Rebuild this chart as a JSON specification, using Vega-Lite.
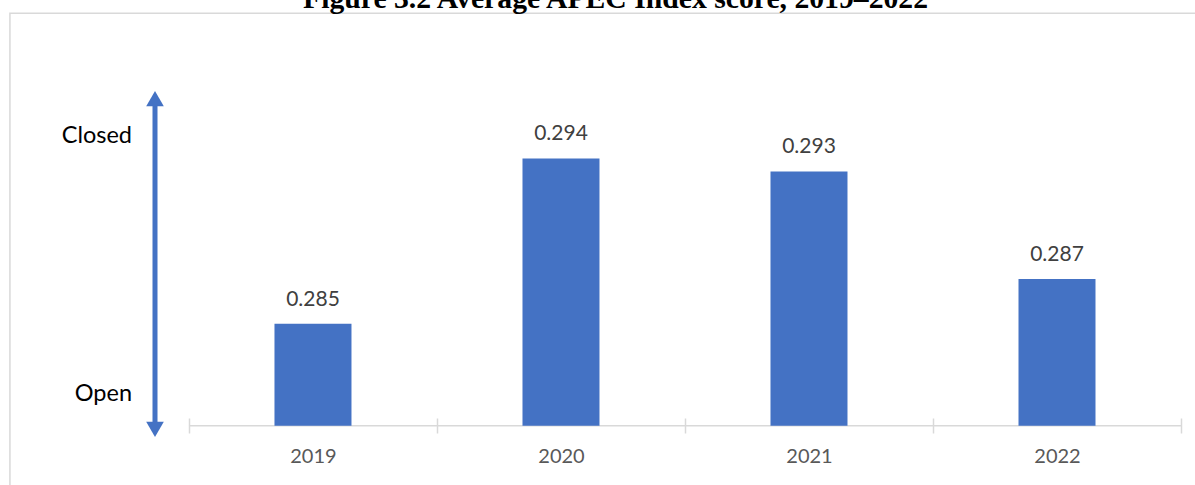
{
  "$schema": "https://vega.github.io/schema/vega-lite/v6.json",
  "width": 1026,
  "height": 346,
  "autosize": "none",
  "padding": {"left": 155, "top": 91, "right": 14, "bottom": 48},
  "background": "white",
  "config": {"view": {"stroke": null}, "font": "Lato", "scale": {"continuousPadding": 0}},
  "title": {
    "text": "Figure 3.2 Average APEC Index score, 2019–2022",
    "font": "Liberation Serif",
    "fontSize": 29.7,
    "fontWeight": "bold",
    "color": "black",
    "anchor": "start",
    "frame": "group",
    "dx": 148,
    "dy": 30,
    "baseline": "alphabetic",
    "offset": 5
  },
  "datasets": {
    "scores": [
      {"year": 2019, "score": 0.2850},
      {"year": 2020, "score": 0.2939},
      {"year": 2021, "score": 0.2932},
      {"year": 2022, "score": 0.2874}
    ],
    "one": [{}]
  },
  "layer": [
    {
      "data": {"name": "one"},
      "mark": {"type": "rect", "fill": null, "stroke": "#d9d9d9", "strokeWidth": 1.5, "clip": false},
      "encoding": {
        "x": {"datum": 2017.778, "type": "quantitative", "scale": {"domain": [2018.363, 2022.5], "zero": false, "nice": false, "padding": 0}, "title": null},
        "x2": {"datum": 2022.5645},
        "y": {"datum": 0.301725, "type": "quantitative", "scale": {"domain": [0.278891, 0.297537], "zero": false, "nice": false, "padding": 0}, "title": null},
        "y2": {"datum": 0.276197}
      }
    },
    {
      "data": {"name": "one"},
      "mark": {"type": "rule", "color": "#d9d9d9", "strokeWidth": 1.5},
      "encoding": {
        "x": {"datum": 2018.5, "type": "quantitative", "scale": {"domain": [2018.363, 2022.5], "zero": false, "nice": false, "padding": 0}, "title": null},
        "x2": {"datum": 2022.5},
        "y": {"datum": 0.2795, "type": "quantitative", "scale": {"domain": [0.278891, 0.297537], "zero": false, "nice": false, "padding": 0}, "title": null}
      }
    },
    {
      "data": {"name": "scores"},
      "mark": {"type": "bar", "size": 77, "color": "#4472C4"},
      "encoding": {
        "x": {
          "field": "year", "type": "quantitative",
          "scale": {"domain": [2018.363, 2022.5], "zero": false, "nice": false, "padding": 0},
          "title": null,
          "axis": {
            "values": [2018.5, 2019.5, 2020.5, 2021.5, 2022.5],
            "labelExpr": "datum.value < 2022 ? format(datum.value + 0.5, 'd') : ''",
            "labelOffset": 124,
            "offset": -19,
            "tickSize": 15,
            "tickColor": "#d9d9d9",
            "tickWidth": 1.5,
            "domain": false,
            "grid": false,
            "labelFontSize": 20,
            "labelColor": "#595959",
            "labelFont": "Lato",
            "labelPadding": 29,
            "labelBaseline": "alphabetic",
            "labelFlush": false,
            "labelOverlap": false,
            "title": null
          }
        },
        "y": {
          "field": "score", "type": "quantitative",
          "scale": {"domain": [0.278891, 0.297537], "zero": false, "nice": false, "padding": 0},
          "title": null,
          "axis": {
            "values": [0.280847, 0.294735],
            "labelExpr": "datum.value > 0.29 ? 'Closed' : 'Open'",
            "domain": false,
            "ticks": false,
            "grid": false,
            "labelPadding": 23.5,
            "labelFontSize": 23.5,
            "labelColor": "black",
            "labelFont": "Lato",
            "labelBaseline": "alphabetic",
            "labelFlush": false,
            "labelOverlap": false,
            "title": null
          }
        },
        "y2": {"datum": 0.2795}
      }
    },
    {
      "data": {"name": "scores"},
      "mark": {"type": "text", "dy": -18, "baseline": "alphabetic", "fontSize": 21, "font": "Lato", "color": "#404040"},
      "encoding": {
        "x": {"field": "year", "type": "quantitative", "scale": {"domain": [2018.363, 2022.5], "zero": false, "nice": false, "padding": 0}, "title": null},
        "y": {"field": "score", "type": "quantitative", "scale": {"domain": [0.278891, 0.297537], "zero": false, "nice": false, "padding": 0}, "title": null},
        "text": {"field": "score", "type": "quantitative", "format": ".3f"}
      }
    },
    {
      "data": {"name": "one"},
      "mark": {"type": "rule", "color": "#4472C4", "strokeWidth": 5},
      "encoding": {
        "x": {"datum": 2018.363, "type": "quantitative", "scale": {"domain": [2018.363, 2022.5], "zero": false, "nice": false, "padding": 0}, "title": null},
        "y": {"datum": 0.279301, "type": "quantitative", "scale": {"domain": [0.278891, 0.297537], "zero": false, "nice": false, "padding": 0}, "title": null},
        "y2": {"datum": 0.297128}
      }
    },
    {
      "data": {"name": "one"},
      "mark": {"type": "point", "shape": "triangle-up", "size": 310, "filled": true, "color": "#4472C4", "opacity": 1},
      "encoding": {
        "x": {"datum": 2018.363, "type": "quantitative", "scale": {"domain": [2018.363, 2022.5], "zero": false, "nice": false, "padding": 0}, "title": null},
        "y": {"datum": 0.297128, "type": "quantitative", "scale": {"domain": [0.278891, 0.297537], "zero": false, "nice": false, "padding": 0}, "title": null}
      }
    },
    {
      "data": {"name": "one"},
      "mark": {"type": "point", "shape": "triangle-down", "size": 310, "filled": true, "color": "#4472C4", "opacity": 1},
      "encoding": {
        "x": {"datum": 2018.363, "type": "quantitative", "scale": {"domain": [2018.363, 2022.5], "zero": false, "nice": false, "padding": 0}, "title": null},
        "y": {"datum": 0.279301, "type": "quantitative", "scale": {"domain": [0.278891, 0.297537], "zero": false, "nice": false, "padding": 0}, "title": null}
      }
    }
  ]
}
